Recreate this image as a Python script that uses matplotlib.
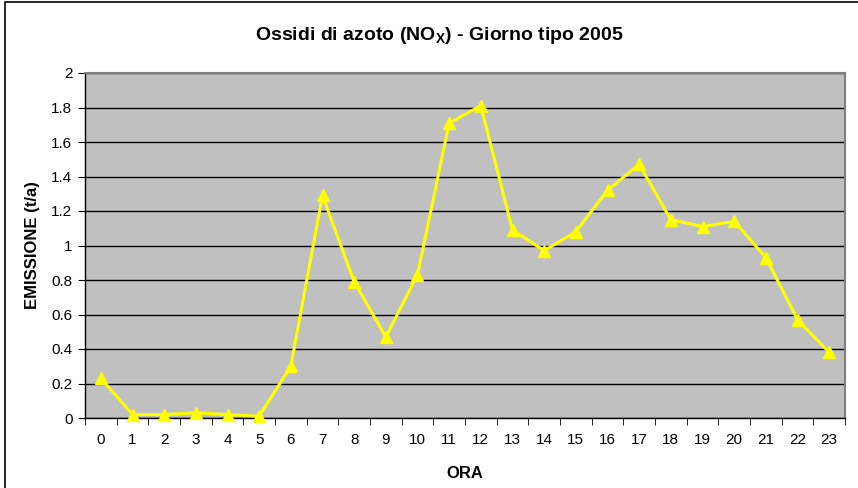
import matplotlib
matplotlib.use("Agg")
import matplotlib.pyplot as plt
from matplotlib.patches import Rectangle

hours = [str(h) for h in range(24)]
emissions = [0.23, 0.02, 0.02, 0.03, 0.02, 0.01, 0.30, 1.29, 0.79, 0.47, 0.83, 1.71,
             1.81, 1.09, 0.97, 1.08, 1.32, 1.47, 1.15, 1.11, 1.14, 0.93, 0.57, 0.38]
y_ticks = [0, 0.2, 0.4, 0.6, 0.8, 1, 1.2, 1.4, 1.6, 1.8, 2]
y_tick_labels = ["0", "0.2", "0.4", "0.6", "0.8", "1", "1.2", "1.4", "1.6", "1.8", "2"]
title = "Ossidi di azoto (NO$_{X}$) - Giorno tipo 2005"
ylabel = "EMISSIONE (t/a)"
xlabel = "ORA"

plt.rcParams['font.family'] = ['Liberation Sans', 'DejaVu Sans']
plt.rcParams['mathtext.fontset'] = 'custom'
plt.rcParams['mathtext.rm'] = 'Liberation Sans:bold'
plt.rcParams['mathtext.it'] = 'Liberation Sans:bold'
plt.rcParams['mathtext.bf'] = 'Liberation Sans:bold'
plt.rcParams['mathtext.default'] = 'rm'

W, H = 858, 488
fig = plt.figure(figsize=(W / 100, H / 100), dpi=100)
fig.patch.set_facecolor('white')

# outer chart border
fig.patches.append(Rectangle((5 / W, -0.01), 1.0, 1.0 - 1.5 / H + 0.01,
                             transform=fig.transFigure, fill=False,
                             edgecolor='black', linewidth=1.2))

left, right, top, bottom = 85, 845, 73, 418
ax = fig.add_axes([left / W, 1 - bottom / H, (right - left) / W, (bottom - top) / H])
ax.set_facecolor('#C0C0C0')

x = list(range(len(hours)))
ax.set_xlim(-0.5, len(hours) - 0.5)
ax.set_ylim(0, 2)

ax.set_yticks(y_ticks)
ax.set_yticklabels(y_tick_labels, fontsize=11)
ax.yaxis.grid(True, color='black', linewidth=1.0)
ax.set_axisbelow(True)

ax.set_xticks(x)
ax.set_xticklabels(hours, fontsize=11)
ax.set_xticks([i - 0.5 for i in range(len(hours) + 1)], minor=True)
ax.tick_params(axis='x', which='major', length=0, pad=11)
ax.tick_params(axis='x', which='minor', length=5, direction='out', color='black')
ax.tick_params(axis='y', length=5, direction='out', color='black', pad=4)

for s in ['top', 'right']:
    ax.spines[s].set_color('#808080')
    ax.spines[s].set_linewidth(1.5)
for s in ['left', 'bottom']:
    ax.spines[s].set_color('black')
    ax.spines[s].set_linewidth(1.0)

ax.plot(x, emissions, color='#FFFF00', linewidth=2.2, marker='^',
        markersize=9, markerfacecolor='#FFFF00', markeredgecolor='#FFFF00',
        clip_on=False, zorder=3)

fig.text(439 / W, 1 - 36 / H, title, ha='center', va='center',
         fontsize=14, fontweight='bold')
fig.text(32 / W, 1 - (top + bottom) / 2 / H, ylabel, ha='center', va='center',
         rotation=90, fontsize=12, fontweight='bold')
fig.text((left + right) / 2 / W, 1 - 473 / H, xlabel, ha='center', va='center',
         fontsize=12, fontweight='bold')

fig.savefig('out.png', dpi=100)
